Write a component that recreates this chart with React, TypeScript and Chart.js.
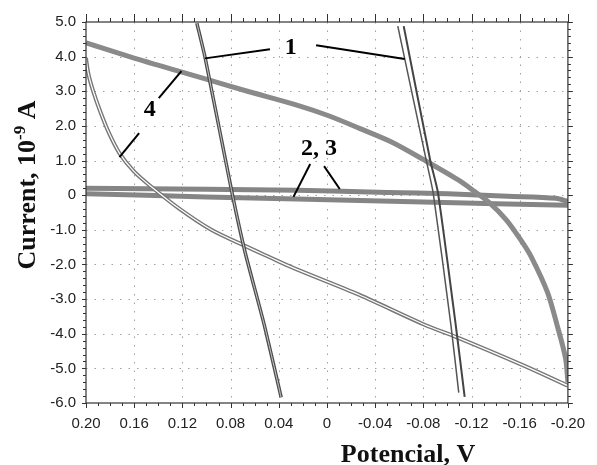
import React, { useEffect, useRef } from "react";
import { Chart, registerables } from "chart.js";

Chart.register(...registerables);

// ---- Data (Potencial, V  /  Current, 10^-9 A) ----
// Curve 1, left steep loop
const c1aV = [0.108, 0.101, 0.0784, 0.068, 0.052, 0.038];
const c1aI = [4.97, 3.95, 0.0, -1.64, -3.75, -5.84];
// Curve 1, right steep loop (two traces)
const c1bLV = [-0.0588, -0.0824, -0.0882, -0.1029, -0.1094];
const c1bLI = [4.88, 1.01, 0.06, -3.75, -5.7];
const c1bRV = [-0.0637, -0.0857, -0.0922, -0.1069, -0.1143];
const c1bRI = [4.88, 1.01, 0.06, -3.75, -5.82];
// Curve 2 (lower band)
const c2V = [0.2, 0.1, 0.025, -0.08, -0.2];
const c2I = [0.04, -0.05, -0.11, -0.2, -0.29];
// Curve 3 (upper band)
const c3V = [0.2, 0.1, 0.025, -0.05, -0.1, -0.15, -0.19, -0.2];
const c3I = [0.2, 0.17, 0.14, 0.08, 0.04, -0.03, -0.09, -0.18];
// Curve 4 upper branch
const c4uV = [0.2, 0.162, 0.121, 0.101, 0.066, 0.025, -0.0008, -0.027, -0.054, -0.081, -0.109, -0.122, -0.135, -0.149, -0.162, -0.17, -0.183, -0.191, -0.198, -0.2];
const c4uI = [4.4, 3.98, 3.56, 3.36, 3.0, 2.6, 2.3, 1.93, 1.53, 1.01, 0.44, 0.12, -0.22, -0.72, -1.35, -1.81, -2.8, -3.75, -4.7, -5.4];
// Curve 4 lower branch
const c4lV = [0.2, 0.198, 0.194, 0.188, 0.181, 0.172, 0.16, 0.145, 0.123, 0.096, 0.069, 0.047, 0.028, -0.027, -0.081, -0.109, -0.162, -0.2];
const c4lI = [3.95, 3.5, 3.0, 2.4, 1.8, 1.2, 0.68, 0.22, -0.38, -1.0, -1.45, -1.8, -2.1, -2.88, -3.74, -4.12, -4.9, -5.5];

// Annotations
const labelText = ["1", "4", "2, 3"];
const labelV = [0.03, 0.147, 0.0065];
const labelI = [4.25, 2.46, 1.33];
const leaderFromV = [0.0473, 0.009, 0.1396, 0.1559, 0.0139, 0.0024];
const leaderFromI = [4.21, 4.33, 2.8, 1.79, 0.9, 0.84];
const leaderToV = [0.1012, -0.0645, 0.1208, 0.1722, 0.0278, -0.0106];
const leaderToI = [3.95, 3.93, 3.58, 1.1, -0.05, 0.18];

// Axes
const xMin = -0.2, xMax = 0.2, xStep = 0.04, xMinor = 0.01;
const yMin = -6, yMax = 5, yStep = 1, yMinor = 0.2;
const xTitle = "Potencial, V";
const yTitleMain = "Current, 10";
const yTitleSup = "-9";
const yTitleEnd = " A";

const pts = (v: number[], i: number[]) => v.map((x, k) => ({ x, y: i[k] }));

const decoPlugin = {
  id: "deco",
  beforeDatasetsDraw(chart: any) {
    const { ctx, chartArea: a, scales } = chart;
    const x = scales.x, y = scales.y;
    ctx.save();
    ctx.strokeStyle = "#a0a0a0";
    ctx.lineWidth = 1;
    ctx.setLineDash([1.5, 7]);
    x.ticks.forEach((t: any) => {
      const px = Math.round(x.getPixelForValue(t.value)) + 0.5;
      if (px < a.left + 2 || px > a.right - 2) return;
      ctx.beginPath();
      ctx.moveTo(px, a.top);
      ctx.lineTo(px, a.bottom);
      ctx.stroke();
    });
    y.ticks.forEach((t: any) => {
      const py = Math.round(y.getPixelForValue(t.value)) + 0.5;
      if (py < a.top + 2 || py > a.bottom - 2) return;
      ctx.beginPath();
      ctx.moveTo(a.left, py);
      ctx.lineTo(a.right, py);
      ctx.stroke();
    });
    ctx.restore();
  },
  afterDatasetsDraw(chart: any) {
    const { ctx, chartArea: a, scales } = chart;
    const x = scales.x, y = scales.y;
    ctx.save();
    // frame
    ctx.strokeStyle = "#333";
    ctx.lineWidth = 1.2;
    ctx.strokeRect(a.left, a.top, a.right - a.left, a.bottom - a.top);
    // ticks
    ctx.lineWidth = 1;
    const nx = Math.round((xMax - xMin) / xMinor);
    for (let k = 0; k <= nx; k++) {
      const v = xMin + k * xMinor;
      const major = k % Math.round(xStep / xMinor) === 0;
      const px = Math.round(x.getPixelForValue(v)) + 0.5;
      ctx.beginPath();
      ctx.moveTo(px, a.top);
      ctx.lineTo(px, a.top - (major ? 8 : 4));
      ctx.moveTo(px, a.bottom);
      ctx.lineTo(px, a.bottom + (major ? 5 : 3));
      ctx.stroke();
    }
    const ny = Math.round((yMax - yMin) / yMinor);
    for (let k = 0; k <= ny; k++) {
      const v = yMin + k * yMinor;
      const major = k % Math.round(yStep / yMinor) === 0;
      const py = Math.round(y.getPixelForValue(v)) + 0.5;
      ctx.beginPath();
      ctx.moveTo(a.left, py);
      ctx.lineTo(a.left - (major ? 4 : 3), py);
      ctx.moveTo(a.right, py);
      ctx.lineTo(a.right + (major ? 5 : 3), py);
      ctx.stroke();
    }
    // leaders
    ctx.strokeStyle = "#000";
    ctx.lineWidth = 2;
    for (let k = 0; k < leaderFromV.length; k++) {
      ctx.beginPath();
      ctx.moveTo(x.getPixelForValue(leaderFromV[k]), y.getPixelForValue(leaderFromI[k]));
      ctx.lineTo(x.getPixelForValue(leaderToV[k]), y.getPixelForValue(leaderToI[k]));
      ctx.stroke();
    }
    // labels
    ctx.fillStyle = "#000";
    ctx.font = "bold 24px 'Liberation Serif'";
    ctx.textAlign = "center";
    ctx.textBaseline = "middle";
    for (let k = 0; k < labelText.length; k++) {
      ctx.fillText(labelText[k], x.getPixelForValue(labelV[k]), y.getPixelForValue(labelI[k]));
    }
    // axis titles
    ctx.fillStyle = "#111";
    ctx.textBaseline = "alphabetic";
    ctx.font = "bold 26px 'Liberation Serif'";
    ctx.textAlign = "center";
    ctx.fillText(xTitle, 408, 462);
    ctx.save();
    ctx.translate(35, 185);
    ctx.rotate(-Math.PI / 2);
    ctx.textAlign = "left";
    const w1 = ctx.measureText(yTitleMain).width;
    const w3 = ctx.measureText(yTitleEnd).width;
    ctx.font = "bold 17px 'Liberation Serif'";
    const w2 = ctx.measureText(yTitleSup).width;
    let cx = -(w1 + w2 + w3) / 2;
    ctx.font = "bold 26px 'Liberation Serif'";
    ctx.fillText(yTitleMain, cx, 0);
    cx += w1;
    ctx.font = "bold 17px 'Liberation Serif'";
    ctx.fillText(yTitleSup, cx, -10);
    cx += w2;
    ctx.font = "bold 26px 'Liberation Serif'";
    ctx.fillText(yTitleEnd, cx, 0);
    ctx.restore();
    ctx.restore();
  },
};

const line = (data: any, color: string, width: number, order: number, tension = 0) => ({
  data,
  showLine: true,
  borderColor: color,
  borderWidth: width,
  pointRadius: 0,
  tension,
  order,
  fill: false,
});

export default function App() {
  const ref = useRef<HTMLCanvasElement>(null);
  useEffect(() => {
    if (!ref.current) return;
    const chart = new Chart(ref.current, {
      type: "scatter",
      data: {
        datasets: [
          line(pts(c3V, c3I), "#858585", 5, 9, 0.3),
          line(pts(c2V, c2I), "#858585", 5, 9, 0.3),
          line(pts(c4uV, c4uI), "#8a8a8a", 5, 8, 0.3),
          line(pts(c4lV, c4lI), "#777777", 4, 7, 0.3),
          line(pts(c4lV, c4lI), "#ffffff", 1.2, 6, 0.3),
          line(pts(c1aV, c1aI), "#4d4d4d", 3.5, 5, 0.2),
          line(pts(c1aV, c1aI), "#c8c8c8", 1, 4, 0.2),
          line(pts(c1bLV, c1bLI), "#555555", 1.5, 3, 0.2),
          line(pts(c1bRV, c1bRI), "#444444", 2, 2, 0.2),
        ] as any,
      },
      options: {
        animation: false,
        responsive: false,
        events: [],
        layout: { padding: { top: 22, right: 21, left: 0, bottom: 0 } },
        plugins: { legend: { display: false }, tooltip: { enabled: false } },
        scales: {
          x: {
            type: "linear",
            min: xMin,
            max: xMax,
            reverse: true,
            afterFit: (s: any) => { s.height = 62; },
            grid: { display: false, drawTicks: false },
            border: { display: false },
            ticks: {
              stepSize: xStep,
              padding: 12,
              color: "#222",
              font: { family: "'Liberation Sans'", size: 15 },
              callback: (v: any) => (Math.abs(v) < 1e-9 ? "0" : Number(v).toFixed(2)),
            },
          },
          y: {
            type: "linear",
            min: yMin,
            max: yMax,
            afterFit: (s: any) => { s.width = 86; },
            grid: { display: false, drawTicks: false },
            border: { display: false },
            ticks: {
              stepSize: yStep,
              padding: 10,
              color: "#222",
              font: { family: "'Liberation Sans'", size: 15 },
              callback: (v: any) => (Math.abs(v) < 1e-9 ? "0" : Number(v).toFixed(1)),
            },
          },
        },
      },
      plugins: [decoPlugin],
    } as any);
    return () => chart.destroy();
  }, []);
  return (
    <div style={{ position: "fixed", left: 0, top: 0, width: 597, height: 465, background: "#fff" }}>
      <canvas ref={ref} width={597} height={465} style={{ width: 597, height: 465, display: "block" }} />
    </div>
  );
}
